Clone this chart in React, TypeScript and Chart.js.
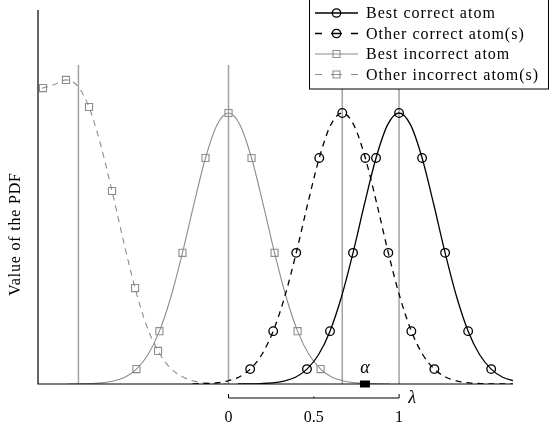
import React, { useEffect, useRef } from "react";
import { Chart, registerables } from "chart.js";

Chart.register(...registerables);

// ---------- data ----------
const legendLabels = [
  "Best correct atom",
  "Other correct atom(s)",
  "Best incorrect atom",
  "Other incorrect atom(s)",
];
const xTickValues = [0, 0.5, 1];
const xTickLabels = ["0", "0.5", "1"];
const yAxisTitle = "Value of the PDF";
const alphaLabel = "α";
const lambdaLabel = "λ";

// Best correct atom (black solid)
const bestCorrectX = [0.055, 0.1225, 0.19, 0.2575, 0.325, 0.3925, 0.46, 0.5275, 0.595, 0.6625, 0.73, 0.7975, 0.865, 0.9325, 1, 1.0675, 1.135, 1.2025, 1.27, 1.3375, 1.405, 1.4725, 1.54, 1.6075, 1.675];
const bestCorrectY = [0, 0.0005, 0.0015, 0.004, 0.011, 0.025, 0.055, 0.108, 0.195, 0.322, 0.484, 0.665, 0.834, 0.956, 1, 0.956, 0.834, 0.665, 0.484, 0.322, 0.195, 0.108, 0.055, 0.025, 0.011];
const bestCorrectMarks = [0.46, 0.595, 0.73, 0.865, 1, 1.135, 1.27, 1.405, 1.54];

// Other correct atom(s) (black dashed)
const otherCorrectX = [-0.2105, -0.143, -0.0755, -0.008, 0.0595, 0.127, 0.1945, 0.262, 0.3295, 0.397, 0.4645, 0.532, 0.5995, 0.667, 0.7345, 0.802, 0.8695, 0.937, 1.0045, 1.072, 1.1395, 1.207, 1.2745, 1.342, 1.4095, 1.477, 1.5445, 1.612, 1.6795];
const otherCorrectY = [0.0005, 0.0015, 0.004, 0.011, 0.025, 0.055, 0.108, 0.195, 0.322, 0.484, 0.665, 0.834, 0.956, 1, 0.956, 0.834, 0.665, 0.484, 0.322, 0.195, 0.108, 0.055, 0.025, 0.011, 0.004, 0.0015, 0.0005, 0, 0];
const otherCorrectMarks = [0.127, 0.262, 0.397, 0.532, 0.667, 0.802, 0.937, 1.072, 1.207];

// Best incorrect atom (grey solid)
const bestIncorrectX = [-0.945, -0.8775, -0.81, -0.7425, -0.675, -0.6075, -0.54, -0.4725, -0.405, -0.3375, -0.27, -0.2025, -0.135, -0.0675, 0, 0.0675, 0.135, 0.2025, 0.27, 0.3375, 0.405, 0.4725, 0.54, 0.6075, 0.675, 0.7425, 0.81, 0.8775, 0.945];
const bestIncorrectY = [0, 0.0005, 0.0015, 0.004, 0.011, 0.025, 0.055, 0.108, 0.195, 0.322, 0.484, 0.665, 0.834, 0.956, 1, 0.956, 0.834, 0.665, 0.484, 0.322, 0.195, 0.108, 0.055, 0.025, 0.011, 0.004, 0.0015, 0.0005, 0];
const bestIncorrectMarks = [-0.54, -0.405, -0.27, -0.135, 0, 0.135, 0.27, 0.405, 0.54];

// Other incorrect atom(s) (grey dashed)
const otherIncorrectX = [-1.223, -1.1555, -1.088, -1.0205, -0.953, -0.8855, -0.818, -0.7505, -0.683, -0.6155, -0.548, -0.4805, -0.413, -0.3455, -0.278, -0.2105, -0.143, -0.0755, -0.008];
const otherIncorrectY = [1.07, 1.08, 1.092, 1.105, 1.122, 1.1, 1.022, 0.885, 0.712, 0.527, 0.354, 0.215, 0.122, 0.062, 0.029, 0.012, 0.004, 0.001, 0];
const otherIncorrectMarks = [-1.088, -0.953, -0.818, -0.683, -0.548, -0.413];

// vertical atom position lines
const atomPositions = [-0.88, 0, 0.667, 1];
const atomLineHeight = [0, 1.177];
const alphaValue = [0.8];

// axis ranges
const xRange = [-1.117, 1.668];
const yRange = [0, 1.38];

// ---------- styles ----------
const BLACK = "#000000";
const GREY = "#8c8c8c";
const VGREY = "#a2a2a2";
const FONT = '"Liberation Serif", "Times New Roman", serif';

const toPts = (xs: number[], ys: number[]) => xs.map((x, i) => ({ x, y: ys[i] }));
const radii = (xs: number[], marks: number[], r: number) =>
  xs.map((x) => (marks.some((m) => Math.abs(m - x) < 1e-6) ? r : 0));

const annotPlugin = {
  id: "annot",
  afterDraw(chart: any) {
    const ctx: CanvasRenderingContext2D = chart.ctx;
    const xs = chart.scales.x;
    const ca = chart.chartArea;
    ctx.save();
    // axes
    ctx.strokeStyle = BLACK;
    ctx.lineWidth = 1.2;
    ctx.setLineDash([]);
    ctx.beginPath();
    ctx.moveTo(ca.left, ca.top);
    ctx.lineTo(ca.left, ca.bottom);
    ctx.lineTo(ca.right, ca.bottom);
    ctx.stroke();

    // alpha marker (wide black box on the axis)
    const ax = xs.getPixelForValue(alphaValue[0]);
    ctx.fillStyle = BLACK;
    ctx.fillRect(ax - 5, ca.bottom - 3.5, 10, 7);

    // bracket (lambda range)
    const bx0 = xs.getPixelForValue(xTickValues[0]);
    const bxm = xs.getPixelForValue(xTickValues[1]);
    const bx1 = xs.getPixelForValue(xTickValues[2]);
    const by = ca.bottom + 14;
    ctx.lineWidth = 1;
    ctx.beginPath();
    ctx.moveTo(bx0, by - 4);
    ctx.lineTo(bx0, by);
    ctx.lineTo(bx1, by);
    ctx.lineTo(bx1, by - 4);
    ctx.moveTo(bxm, by);
    ctx.lineTo(bxm, by - 1.5);
    ctx.stroke();

    ctx.fillStyle = BLACK;
    ctx.textAlign = "center";
    ctx.textBaseline = "middle";
    ctx.font = `16px ${FONT}`;
    xTickValues.forEach((v, i) => {
      ctx.fillText(xTickLabels[i], xs.getPixelForValue(v), ca.bottom + 34);
    });
    ctx.font = `italic 18px ${FONT}`;
    ctx.fillText(lambdaLabel, bx1 + 13, by);
    ctx.fillText(alphaLabel, ax, ca.bottom - 16);

    // y axis title
    ctx.save();
    ctx.translate(16, 234);
    ctx.rotate(-Math.PI / 2);
    ctx.font = `16px ${FONT}`;
    (ctx as any).letterSpacing = "0.8px";
    ctx.fillText(yAxisTitle, 0, 0);
    ctx.restore();

    // legend
    const lx = 309.5, ly = -0.5, lw = 239, lh = 89.5;
    ctx.fillStyle = "#ffffff";
    ctx.fillRect(lx, ly, lw, lh);
    ctx.strokeStyle = BLACK;
    ctx.lineWidth = 1;
    ctx.strokeRect(lx, ly, lw, lh);
    const rowsY = [13, 33.5, 54, 74.5];
    const styles = [
      { c: BLACK, w: 1.3, dash: false, m: "circle" },
      { c: BLACK, w: 1.3, dash: true, m: "circle" },
      { c: GREY, w: 1.1, dash: false, m: "rect" },
      { c: GREY, w: 1.1, dash: true, m: "rect" },
    ];
    const sx0 = 315, sx1 = 358, sxm = 336.5;
    styles.forEach((s, i) => {
      const y = rowsY[i];
      ctx.strokeStyle = s.c;
      ctx.lineWidth = s.w;
      ctx.beginPath();
      if (!s.dash) {
        ctx.moveTo(sx0, y);
        ctx.lineTo(sx1, y);
      } else {
        ctx.moveTo(sx0, y);
        ctx.lineTo(sx0 + 7, y);
        ctx.moveTo(sxm - 5.5, y);
        ctx.lineTo(sxm + 5.5, y);
        ctx.moveTo(sx1 - 7, y);
        ctx.lineTo(sx1, y);
      }
      ctx.stroke();
      ctx.beginPath();
      if (s.m === "circle") {
        ctx.arc(sxm, y, 4.2, 0, Math.PI * 2);
      } else {
        ctx.rect(sxm - 3.5, y - 3.5, 7, 7);
      }
      ctx.stroke();
      ctx.fillStyle = BLACK;
      ctx.textAlign = "left";
      ctx.textBaseline = "middle";
      ctx.font = `16px ${FONT}`;
      (ctx as any).letterSpacing = "1px";
      ctx.fillText(legendLabels[i], 366, y + 1);
      (ctx as any).letterSpacing = "0px";
    });
    ctx.restore();
  },
};

export default function App() {
  const ref = useRef<HTMLCanvasElement | null>(null);
  useEffect(() => {
    document.body.style.margin = "0";
    const canvas = ref.current!;
    const lineDs = (xsArr: number[], ysArr: number[], marks: number[], color: string, width: number, dashed: boolean, style: string, r: number) => ({
      data: toPts(xsArr, ysArr),
      borderColor: color,
      borderWidth: width,
      borderDash: dashed ? [6, 5] : [],
      backgroundColor: "rgba(0,0,0,0)",
      pointBackgroundColor: "rgba(255,255,255,0)",
      pointBorderColor: color,
      pointBorderWidth: width,
      pointStyle: style,
      pointRadius: radii(xsArr, marks, r),
      cubicInterpolationMode: "monotone",
      fill: false,
    });
    const vlines = atomPositions.map((p) => ({
      data: atomLineHeight.map((y) => ({ x: p, y })),
      borderColor: VGREY,
      borderWidth: 1.5,
      pointRadius: 0,
      fill: false,
    }));
    const chart = new Chart(canvas, {
      type: "line",
      data: {
        datasets: [
          lineDs(bestCorrectX, bestCorrectY, bestCorrectMarks, BLACK, 1.3, false, "circle", 4.3),
          lineDs(otherCorrectX, otherCorrectY, otherCorrectMarks, BLACK, 1.3, true, "circle", 4.3),
          lineDs(bestIncorrectX, bestIncorrectY, bestIncorrectMarks, GREY, 1.1, false, "rect", 5),
          lineDs(otherIncorrectX, otherIncorrectY, otherIncorrectMarks, GREY, 1.1, true, "rect", 5),
          ...vlines,
        ],
      },
      options: {
        animation: false,
        responsive: false,
        events: [],
        layout: { padding: { left: 38, right: 40, top: 10, bottom: 44 } },
        plugins: { legend: { display: false }, tooltip: { enabled: false } },
        scales: {
          x: { type: "linear", min: xRange[0], max: xRange[1], display: false },
          y: { type: "linear", min: yRange[0], max: yRange[1], display: false },
        },
      },
      plugins: [annotPlugin],
    } as any);
    return () => chart.destroy();
  }, []);
  return (
    <div style={{ position: "absolute", left: 0, top: 0, width: 553, height: 428 }}>
      <canvas ref={ref} width={553} height={428} style={{ width: 553, height: 428, display: "block" }} />
    </div>
  );
}
